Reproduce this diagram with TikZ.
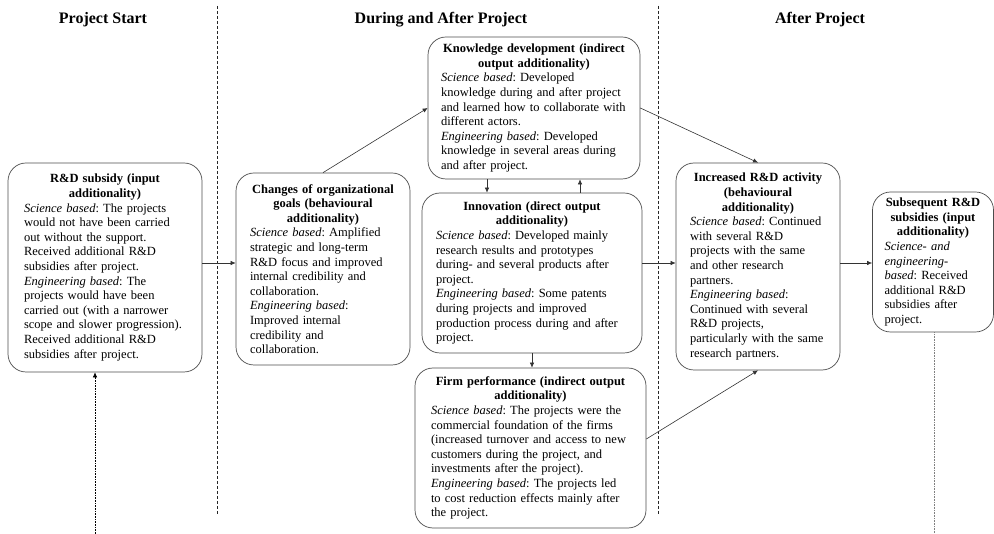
\documentclass[tikz,border=0pt]{standalone}
\usepackage{fontspec}
\setmainfont{Liberation Serif}
\usetikzlibrary{arrows.meta,positioning}

\newcommand{\boxhead}[1]{{\centering\bfseries #1\par}}

\begin{document}
\frenchspacing
\begin{tikzpicture}[x=1pt, y=-1pt,
        stage/.style = {draw=black!70, rounded corners=18pt, line width=0.7pt, align=left, inner ysep=5pt, font=\fontsize{12.5}{14.6}\selectfont},
        heading/.style = {font=\fontsize{16}{18}\selectfont\bfseries},
        arrow/.style = {-{Latex[length=5pt, width=4.5pt]}, line width=0.6pt, draw=black!80},
        divider/.style = {densely dashed, line width=0.6pt, draw=black!85},
        feedback/.style = {densely dotted, line width=0.6pt}
        ]
        \useasboundingbox (0,0) rectangle (994,534);

        % phase headings and dividers
        \node[heading] (h1) at (103,20) {Project Start};
        \node[heading] (h2) at (441,20) {During and After Project};
        \node[heading] (h3) at (820,20) {After Project};
        \draw[divider] (217,6) -- (217,515);
        \draw[divider] (658,6) -- (658,515);

        \node[stage, text width=162pt, inner xsep=16pt, minimum height=209pt] (sub) at (105,267.5) {%
            \boxhead{R\&D subsidy (input\\ additionality)}%
            \textit{Science based}: The projects\\ would not have been carried\\ out without the support.\\
            Received additional R\&D\\ subsidies after project.\\
            \textit{Engineering based}: The\\ projects would have been\\ carried out (with a narrower\\
            scope and slower progression).\\ Received additional R\&D\\ subsidies after project.};

        \node[stage, text width=146pt, inner xsep=14pt, minimum height=192pt] (goals) at (323,269) {%
            \boxhead{Changes of organizational\\ goals (behavioural\\ additionality)}%
            \textit{Science based}: Amplified\\ strategic and long-term\\ R\&D focus and improved\\
            internal credibility and\\ collaboration.\\
            \textit{Engineering based}:\\ Improved internal\\ credibility and\\ collaboration.};

        \node[stage, text width=186pt, inner xsep=13pt, minimum height=142pt] (know) at (534,108) {%
            \boxhead{Knowledge development (indirect\\ output additionality)}%
            \textit{Science based}: Developed\\ knowledge during and after project\\
            and learned how to collaborate with\\ different actors.\\
            \textit{Engineering based}: Developed\\ knowledge in several areas during\\ and after project.};

        \node[stage, text width=192pt, inner xsep=14pt, minimum height=160pt] (innov) at (532,273) {%
            \boxhead{Innovation (direct output\\ additionality)}%
            \textit{Science based}: Developed mainly\\ research results and prototypes\\
            during- and several products after\\ project.\\
            \textit{Engineering based}: Some patents\\ during projects and improved\\
            production process during and after\\ project.};

        \node[stage, text width=199pt, inner xsep=16pt, minimum height=160pt] (firm) at (530.5,448) {%
            \boxhead{Firm performance (indirect output\\ additionality)}%
            \textit{Science based}: The projects were the\\ commercial foundation of the firms\\
            (increased turnover and access to new\\ customers during the project, and\\
            investments after the project).\\
            \textit{Engineering based}: The projects led\\ to cost reduction effects mainly after\\ the project.};

        \node[stage, text width=136pt, inner xsep=14pt, minimum height=207pt] (incr) at (758,266.5) {%
            \boxhead{Increased R\&D activity\\ (behavioural\\ additionality)}%
            \textit{Science based}: Continued\\ with several R\&D\\ projects with the same\\
            and other research\\ partners.\\
            \textit{Engineering based}:\\ Continued with several\\ R\&D projects,\\
            particularly with the same\\ research partners.};

        \node[stage, text width=97pt, inner xsep=12pt, minimum height=140pt] (next) at (933,262) {%
            \boxhead{Subsequent R\&D\\ subsidies (input\\ additionality)}%
            \textit{Science- and}\\ \textit{engineering-}\\ \textit{based}: Received\\
            additional R\&D\\ subsidies after\\ project.};

        % connectors
        \coordinate (mid) at (0,263);
        \coordinate (subin) at (95,534);
        \coordinate (nextout) at (934,534);

        \draw[arrow] (sub.east |- mid) -- (goals.west |- mid);
        \draw[arrow] (goals.north) -- (know.west);
        \draw[arrow] ([xshift=-47pt]know.south) -- ([xshift=-47pt]know.south |- innov.north);
        \draw[arrow] ([xshift=46pt]know.south |- innov.north) -- ([xshift=46pt]know.south);
        \draw[arrow] (innov.south) -- (innov.south |- firm.north);
        \draw[arrow] (innov.east |- mid) -- (incr.west |- mid);
        \draw[arrow] (know.east) -- (incr.north);
        \draw[arrow] ([yshift=9pt]firm.east) -- (incr.south);
        \draw[arrow] (incr.east |- mid) -- (next.west |- mid);

        \draw[feedback, -{Latex[length=5pt, width=4.5pt]}] (subin) -- (subin |- sub.south);
        \draw[feedback, draw=black!50] (nextout |- next.south) -- (nextout);
    \end{tikzpicture}
\end{document}
